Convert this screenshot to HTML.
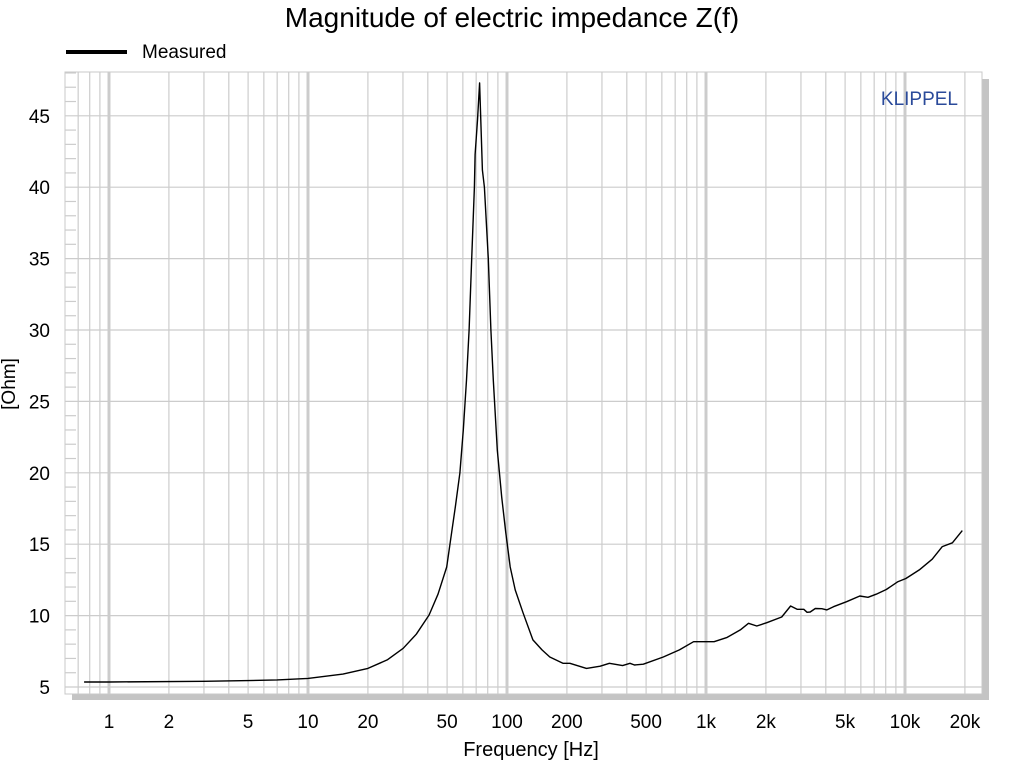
<!DOCTYPE html>
<html><head><meta charset="utf-8"><style>
body{margin:0;background:#fff;width:1024px;height:768px;overflow:hidden;font-family:"Liberation Sans",sans-serif}
</style></head><body>
<svg width="1024" height="768" font-family="Liberation Sans, sans-serif">
<text x="512" y="27" text-anchor="middle" font-size="28">Magnitude of electric impedance Z(f)</text>
<line x1="66" y1="52" x2="127" y2="52" stroke="#000" stroke-width="4"/>
<text x="142" y="58" font-size="19">Measured</text>
<rect x="72" y="79" width="917" height="621" fill="#c4c4c4"/>
<rect x="65" y="72" width="917" height="622" fill="#fff" stroke="#c8c8c8"/>
<g id="grid"></g>
<g id="ticks"></g>
<path id="curve" fill="none" stroke="#000" stroke-width="1.4" stroke-linejoin="round"/>
<text x="958" y="105" text-anchor="end" font-size="19" fill="#2a4a9a">KLIPPEL</text>
<text x="531" y="756" text-anchor="middle" font-size="20">Frequency [Hz]</text>
<text transform="translate(15,384) rotate(-90)" text-anchor="middle" font-size="19">[Ohm]</text>
</svg>
<script>
const freqs=[0.75,1,3,5,7,10,15,20,25,30.1,35,40.6,45,49.8,52.7,55,58,60.3,62.6,64.5,66.5,68.6,69.1,71.1,72.8,75.2,77,80.5,83,85.3,89.4,94,98.6,103.8,110,120.4,135,150,164,191,207,251,294,327,381,415,437,484,610,735,866,1098,1277,1487,1636,1800,2020,2400,2660,2870,3100,3220,3340,3540,3820,4050,4370,5090,5930,6520,7170,8050,9170,10100,11800,13700,15400,17300,19400];
const ohms=[5.35,5.35,5.4,5.45,5.5,5.6,5.9,6.3,6.9,7.71,8.7,10.04,11.5,13.4,15.8,17.6,20,23,26.5,30,35,40,42.3,44.7,47.3,41.2,40,35,30,26.5,21.6,18.3,15.8,13.4,11.8,10.2,8.3,7.6,7.1,6.66,6.66,6.3,6.46,6.66,6.5,6.66,6.54,6.6,7.1,7.6,8.17,8.17,8.47,9.0,9.46,9.27,9.5,9.9,10.67,10.44,10.44,10.23,10.25,10.5,10.48,10.4,10.62,10.97,11.37,11.28,11.5,11.83,12.36,12.6,13.2,13.95,14.83,15.1,15.95];
const yTicks=[5,10,15,20,25,30,35,40,45];
const xTickVals=[1,2,5,10,20,50,100,200,500,1000,2000,5000,10000,20000];
const xTickLabels=["1","2","5","10","20","50","100","200","500","1k","2k","5k","10k","20k"];
const X=f=>109+199*Math.log10(f);
const Y=v=>687-(v-5)*14.28;
const NS="http://www.w3.org/2000/svg";
const grid=document.getElementById('grid'),ticks=document.getElementById('ticks');
function ln(x1,y1,x2,y2,w,name){const l=document.createElementNS(NS,'line');
l.setAttribute('x1',x1);l.setAttribute('y1',y1);l.setAttribute('x2',x2);l.setAttribute('y2',y2);
l.setAttribute('stroke','#cccccc');l.setAttribute('stroke-width',w);


grid.appendChild(l);}
for(let d=-1;d<=4;d++)for(let m=1;m<10;m++){const f=m*Math.pow(10,d);const x=X(f);if(x<66||x>981)continue;ln(x,72,x,694,m==1?3:1.2,'v-gridline');}
yTicks.forEach(v=>{ln(65,Y(v),982,Y(v),1.2,'h-gridline');
const t=document.createElementNS(NS,'text');t.setAttribute('x',50);t.setAttribute('y',Y(v)+7);t.setAttribute('text-anchor','end');t.setAttribute('font-size','19');t.textContent=v;


ticks.appendChild(t);});
for(let v=5;v<=48;v++){if(v%5)ln(65,Y(v),76,Y(v),1.2,'y-minor-tick');}
xTickVals.forEach((f,i)=>{const t=document.createElementNS(NS,'text');t.setAttribute('x',X(f));t.setAttribute('y',728);t.setAttribute('text-anchor','middle');t.setAttribute('font-size','19');t.textContent=xTickLabels[i];


ticks.appendChild(t);});
document.getElementById('curve').setAttribute('d',freqs.map((f,i)=>(i?'L':'M')+X(f).toFixed(1)+' '+Y(ohms[i]).toFixed(1)).join(' '));
</script>
</body></html>
